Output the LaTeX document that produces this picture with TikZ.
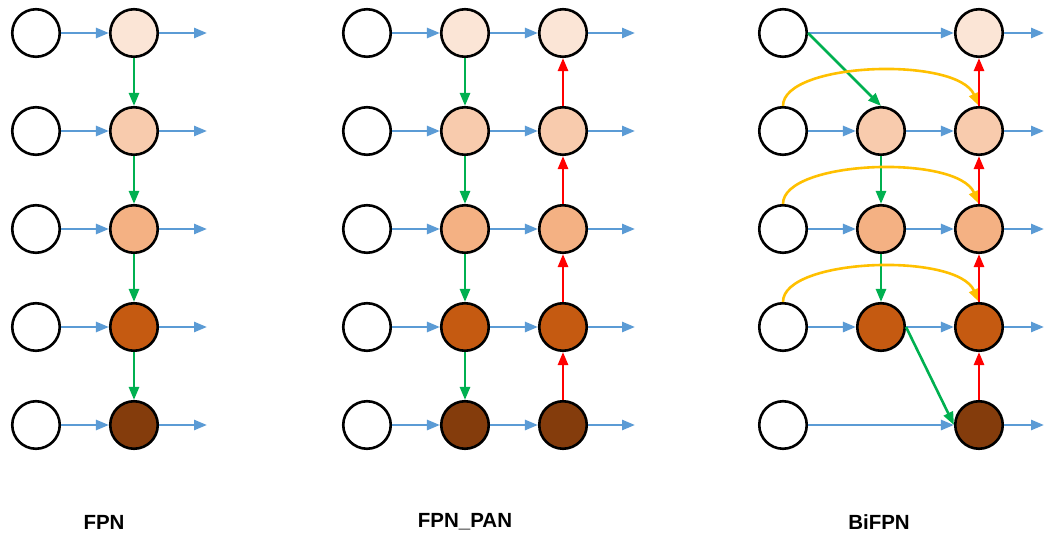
\documentclass[tikz,border=0pt]{standalone}
\usepackage{fontspec}
\setmainfont{Liberation Sans}
\usetikzlibrary{arrows.meta,calc}
\definecolor{c1}{HTML}{FBE5D6}
\definecolor{c2}{HTML}{F8CBAD}
\definecolor{c3}{HTML}{F4B183}
\definecolor{c4}{HTML}{C55A11}
\definecolor{c5}{HTML}{843C0C}
\definecolor{ablue}{HTML}{5B9BD5}
\definecolor{agreen}{HTML}{00B050}
\definecolor{ared}{HTML}{FF0000}
\definecolor{ayellow}{HTML}{FFC000}
\tikzset{
  feat/.style={circle,draw=black,line width=2.6pt,minimum size=47.5pt,inner sep=0pt},
  arr/.style={line width=2.6pt,-{Triangle[length=13pt,width=10pt]}},
  bl/.style={arr,draw=ablue,fill=ablue},
  gr/.style={arr,draw=agreen,fill=agreen},
  rd/.style={arr,draw=ared,fill=ared},
  yl/.style={arr,draw=ayellow},
  lab/.style={font=\fontsize{20.5pt}{24pt}\selectfont\bfseries,inner sep=0pt}
}
\begin{document}
\begin{tikzpicture}[x=1pt,y=-1pt]
\useasboundingbox (0,0) rectangle (1045,535);
% ---------- FPN ----------
\foreach \i/\y/\c in {1/33/c1,2/131/c2,3/229/c3,4/327/c4,5/425/c5}{
  \node[feat,fill=white] (a\i) at (36,\y) {};
  \node[feat,fill=\c] (b\i) at (134,\y) {};
  \coordinate (ao\i) at (207,\y);
  \draw[bl] (a\i) -- (b\i);
  \draw[bl] (b\i) -- (ao\i);
}
\foreach \i/\j in {1/2,2/3,3/4,4/5}{
  \draw[gr] (b\i.south) -- (b\j.north);
}
% ---------- FPN_PAN ----------
\foreach \i/\y/\c in {1/33/c1,2/131/c2,3/229/c3,4/327/c4,5/425/c5}{
  \node[feat,fill=white] (p\i) at (367,\y) {};
  \node[feat,fill=\c] (q\i) at (465,\y) {};
  \node[feat,fill=\c] (r\i) at (563,\y) {};
  \coordinate (po\i) at (635,\y);
  \draw[bl] (p\i) -- (q\i);
  \draw[bl] (q\i) -- (r\i);
  \draw[bl] (r\i) -- (po\i);
}
\foreach \i/\j in {1/2,2/3,3/4,4/5}{
  \draw[gr] (q\i.south) -- (q\j.north);
  \draw[rd] (r\j.north) -- (r\i.south);
}
% ---------- BiFPN ----------
\foreach \i/\y/\c in {1/33/c1,2/131/c2,3/229/c3,4/327/c4,5/425/c5}{
  \node[feat,fill=white] (u\i) at (783,\y) {};
  \node[feat,fill=\c] (w\i) at (979,\y) {};
  \coordinate (wo\i) at (1044,\y);
  \draw[bl] (w\i) -- (wo\i);
}
\foreach \i/\y/\c in {2/131/c2,3/229/c3,4/327/c4}{
  \node[feat,fill=\c] (v\i) at (881,\y) {};
  \draw[bl] (u\i) -- (v\i);
  \draw[bl] (v\i) -- (w\i);
}
\draw[bl] (u1) -- (w1);
\draw[bl] (u5) -- (w5);
\draw[gr] (u1.east) -- (v2.north);
\draw[gr] (v2.south) -- (v3.north);
\draw[gr] (v3.south) -- (v4.north);
\draw[gr] (v4.east) -- (w5.west);
\foreach \i in {2,3,4}{
  \draw[yl] (u\i.north) .. controls ($(u\i.north)+(0,-44)$) and ($(w\i.north)+(-22,-50)$) .. (w\i.north);
}
\foreach \i/\j in {1/2,2/3,3/4,4/5}{
  \draw[rd] (w\j.north) -- (w\i.south);
}
% labels
\node[lab] (l1) at (104,522) {FPN};
\node[lab] (l2) at (465,522) {FPN\_PAN};
\node[lab] (l3) at (879,522) {BiFPN};
\end{tikzpicture}
\end{document}
